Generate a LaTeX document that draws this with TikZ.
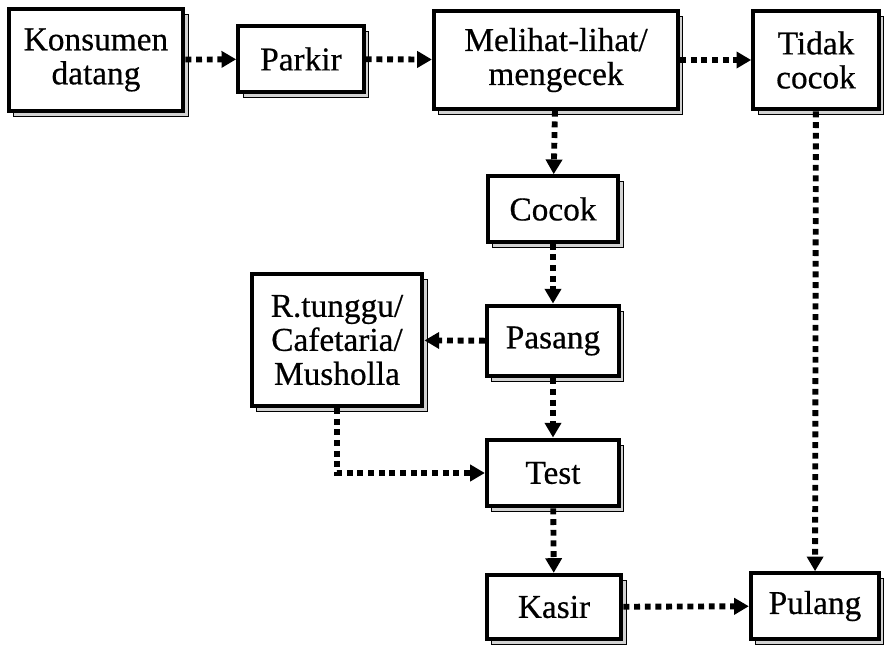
\documentclass[tikz,border=0pt]{standalone}
\usepackage{fontspec}
\setmainfont{Liberation Serif}
\newfontfamily\boxfont{Liberation Serif}[FakeBold=0.5]
\usetikzlibrary{arrows.meta,shadows}
\begin{document}
\begin{tikzpicture}[x=0.75pt,y=-0.75pt,
  box/.style={draw,line width=3.2pt,fill=white,align=center,inner sep=0pt,
    font=\boxfont\fontsize{25}{25.5}\selectfont,
    copy shadow={shadow xshift=3.5pt,shadow yshift=-4pt,draw=black,fill=gray!35,line width=0.6pt}},
  flow/.style={line width=4.4pt,dash pattern=on 4.4pt off 3.6pt,-{Triangle[length=11pt,width=12pt]}}]
  \useasboundingbox (0,0) rectangle (886,650);
  \node[box,minimum width=131pt,minimum height=76pt] (konsumen) at (96,60) {Konsumen\\datang};
  \node[box,minimum width=94pt,minimum height=49pt] (parkir) at (301,59) {Parkir};
  \node[box,minimum width=183pt,minimum height=73pt] (melihat) at (556,60) {Melihat-lihat/\\mengecek};
  \node[box,minimum width=94pt,minimum height=74pt] (tidak) at (816,60) {Tidak\\cocok};
  \node[box,minimum width=98pt,minimum height=49pt] (cocok) at (553,209) {Cocok};
  \node[box,minimum width=128pt,minimum height=99pt] (tunggu) at (337,340) {R.tunggu/\\Cafetaria/\\Musholla};
  \node[box,minimum width=99pt,minimum height=53pt] (pasang) at (553,341) {Pasang};
  \node[box,minimum width=99pt,minimum height=50pt] (test) at (553,473) {Test};
  \node[box,minimum width=101pt,minimum height=48pt] (kasir) at (554,607) {Kasir};
  \node[box,minimum width=96pt,minimum height=49pt] (pulang) at (815,606) {Pulang};
  % alur
  \draw[flow] (konsumen) -- (parkir);
  \draw[flow] (parkir) -- (melihat);
  \draw[flow] (melihat) -- (tidak);
  \draw[flow] (melihat) -- (cocok);
  \draw[flow] (cocok) -- (pasang);
  \draw[flow] (pasang) -- (tunggu);
  \draw[flow] (pasang) -- (test);
  \draw[flow] (tunggu.south) |- (test.west);
  \draw[flow] (test) -- (kasir);
  \draw[flow] (kasir) -- (pulang);
  \draw[flow] (tidak) -- (pulang);
\end{tikzpicture}
\end{document}
